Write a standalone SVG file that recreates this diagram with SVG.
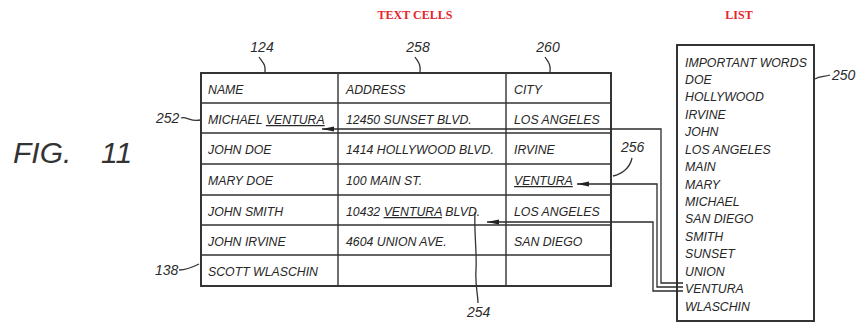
<svg xmlns="http://www.w3.org/2000/svg" width="864" height="323" viewBox="0 0 864 323">
<defs>
<style>
.t{font-family:"Liberation Sans",Arial,sans-serif;font-style:italic;font-size:12.3px;fill:#262626}
.lt{font-family:"Liberation Sans",Arial,sans-serif;font-style:italic;font-size:12.3px;fill:#262626}
.num{font-family:"Liberation Sans",Arial,sans-serif;font-style:italic;font-size:14px;fill:#2b2b2b}
.title{font-family:"Liberation Serif","Times New Roman",serif;font-weight:bold;font-size:12px;fill:#e8232b}
.grid{stroke:#333;stroke-width:1.4;fill:none}
.outer{stroke:#2b2b2b;stroke-width:1.9;fill:none}
.lead{stroke:#333;stroke-width:1.3;fill:none}
.conn{stroke:#2b2b2b;stroke-width:1.3;fill:none}
.u{text-decoration:underline}
</style>
<marker id="arr" markerWidth="12" markerHeight="6" refX="12" refY="3" orient="auto" markerUnits="userSpaceOnUse">
<path d="M0,0.5 L12,3 L0,5.5 z" fill="#222"/>
</marker>
</defs>
<rect width="864" height="323" fill="#fff"/>

<g id="titles">
<text class="title" x="415" y="19" text-anchor="middle">TEXT CELLS</text>
<text class="title" x="739" y="19" text-anchor="middle">LIST</text>
</g>

<g id="fig-label">
<text x="13" y="163" style="font-family:'Liberation Sans',Arial,sans-serif;font-style:italic;font-size:30px;fill:#333">FIG.</text>
<text x="101" y="163" style="font-family:'Liberation Sans',Arial,sans-serif;font-style:italic;font-size:30px;fill:#333">11</text>
</g>

<g id="table">
<rect class="outer" x="201" y="73" width="410" height="213"/>
<path class="grid" d="M201,103H611M201,133H611M201,164H611M201,195H611M201,225H611M201,255H611M338,73V286M506,73V286"/>
<text class="t" x="208" y="94">NAME</text>
<text class="t" x="208" y="124">MICHAEL <tspan class="u">VENTURA</tspan></text>
<text class="t" x="208" y="154">JOHN DOE</text>
<text class="t" x="208" y="185">MARY DOE</text>
<text class="t" x="208" y="216">JOHN SMITH</text>
<text class="t" x="208" y="246">JOHN IRVINE</text>
<text class="t" x="208" y="276">SCOTT WLASCHIN</text>
<text class="t" x="346" y="94">ADDRESS</text>
<text class="t" x="346" y="124">12450 SUNSET BLVD.</text>
<text class="t" x="346" y="154">1414 HOLLYWOOD BLVD.</text>
<text class="t" x="346" y="185">100 MAIN ST.</text>
<text class="t" x="346" y="216">10432 <tspan class="u">VENTURA</tspan> BLVD.</text>
<text class="t" x="346" y="246">4604 UNION AVE.</text>
<text class="t" x="514" y="94">CITY</text>
<text class="t" x="514" y="124">LOS ANGELES</text>
<text class="t" x="514" y="154">IRVINE</text>
<text class="t u" x="514" y="185">VENTURA</text>
<text class="t" x="514" y="216">LOS ANGELES</text>
<text class="t" x="514" y="246">SAN DIEGO</text>
</g>

<g id="list">
<rect class="outer" x="677" y="45" width="137" height="276"/>
<text class="lt" x="685" y="66.5">IMPORTANT WORDS</text>
<text class="lt" x="685" y="83.9">DOE</text>
<text class="lt" x="685" y="101.4">HOLLYWOOD</text>
<text class="lt" x="685" y="118.8">IRVINE</text>
<text class="lt" x="685" y="136.2">JOHN</text>
<text class="lt" x="685" y="153.7">LOS ANGELES</text>
<text class="lt" x="685" y="171.1">MAIN</text>
<text class="lt" x="685" y="188.5">MARY</text>
<text class="lt" x="685" y="205.9">MICHAEL</text>
<text class="lt" x="685" y="223.4">SAN DIEGO</text>
<text class="lt" x="685" y="240.8">SMITH</text>
<text class="lt" x="685" y="258.2">SUNSET</text>
<text class="lt" x="685" y="275.7">UNION</text>
<text class="lt" x="685" y="293.1">VENTURA</text>
<text class="lt" x="685" y="310.5">WLASCHIN</text>
</g>

<g id="ref-labels">
<g id="lbl-124"><text class="num" x="262" y="52" text-anchor="middle">124</text><path class="lead" d="M259,57 C262,62 266,64 265,72"/></g>
<g id="lbl-258"><text class="num" x="418" y="52" text-anchor="middle">258</text><path class="lead" d="M415,57 C418,62 421,64 420,72"/></g>
<g id="lbl-260"><text class="num" x="548" y="52" text-anchor="middle">260</text><path class="lead" d="M545,57 C548,62 551,64 550,72"/></g>
<g id="lbl-250"><text class="num" x="832" y="80">250</text><path class="lead" d="M815,79 C820,76 824,77 830,75"/></g>
<g id="lbl-252"><text class="num" x="156" y="123">252</text><path class="lead" d="M181,118 C186,116 191,122 200,120"/></g>
<g id="lbl-138"><text class="num" x="155" y="275">138</text><path class="lead" d="M179,270 C186,270 193,267 199,264"/></g>
<g id="lbl-256"><text class="num" x="621" y="152">256</text><path class="lead" d="M632,158 C630,168 622,174 613,176"/></g>
<g id="lbl-254"><text class="num" x="467" y="317">254</text><path class="lead" d="M475,212 C474,235 477,250 476,270 C475,285 478,295 478,303"/></g>
</g>

<g id="connectors">
<path class="conn" d="M683,283H661V129H322" marker-end="url(#arr)"/>
<path class="conn" d="M683,287H657V184H577" marker-end="url(#arr)"/>
<path class="conn" d="M683,291H653V222H487" marker-end="url(#arr)"/>
</g>
</svg>
